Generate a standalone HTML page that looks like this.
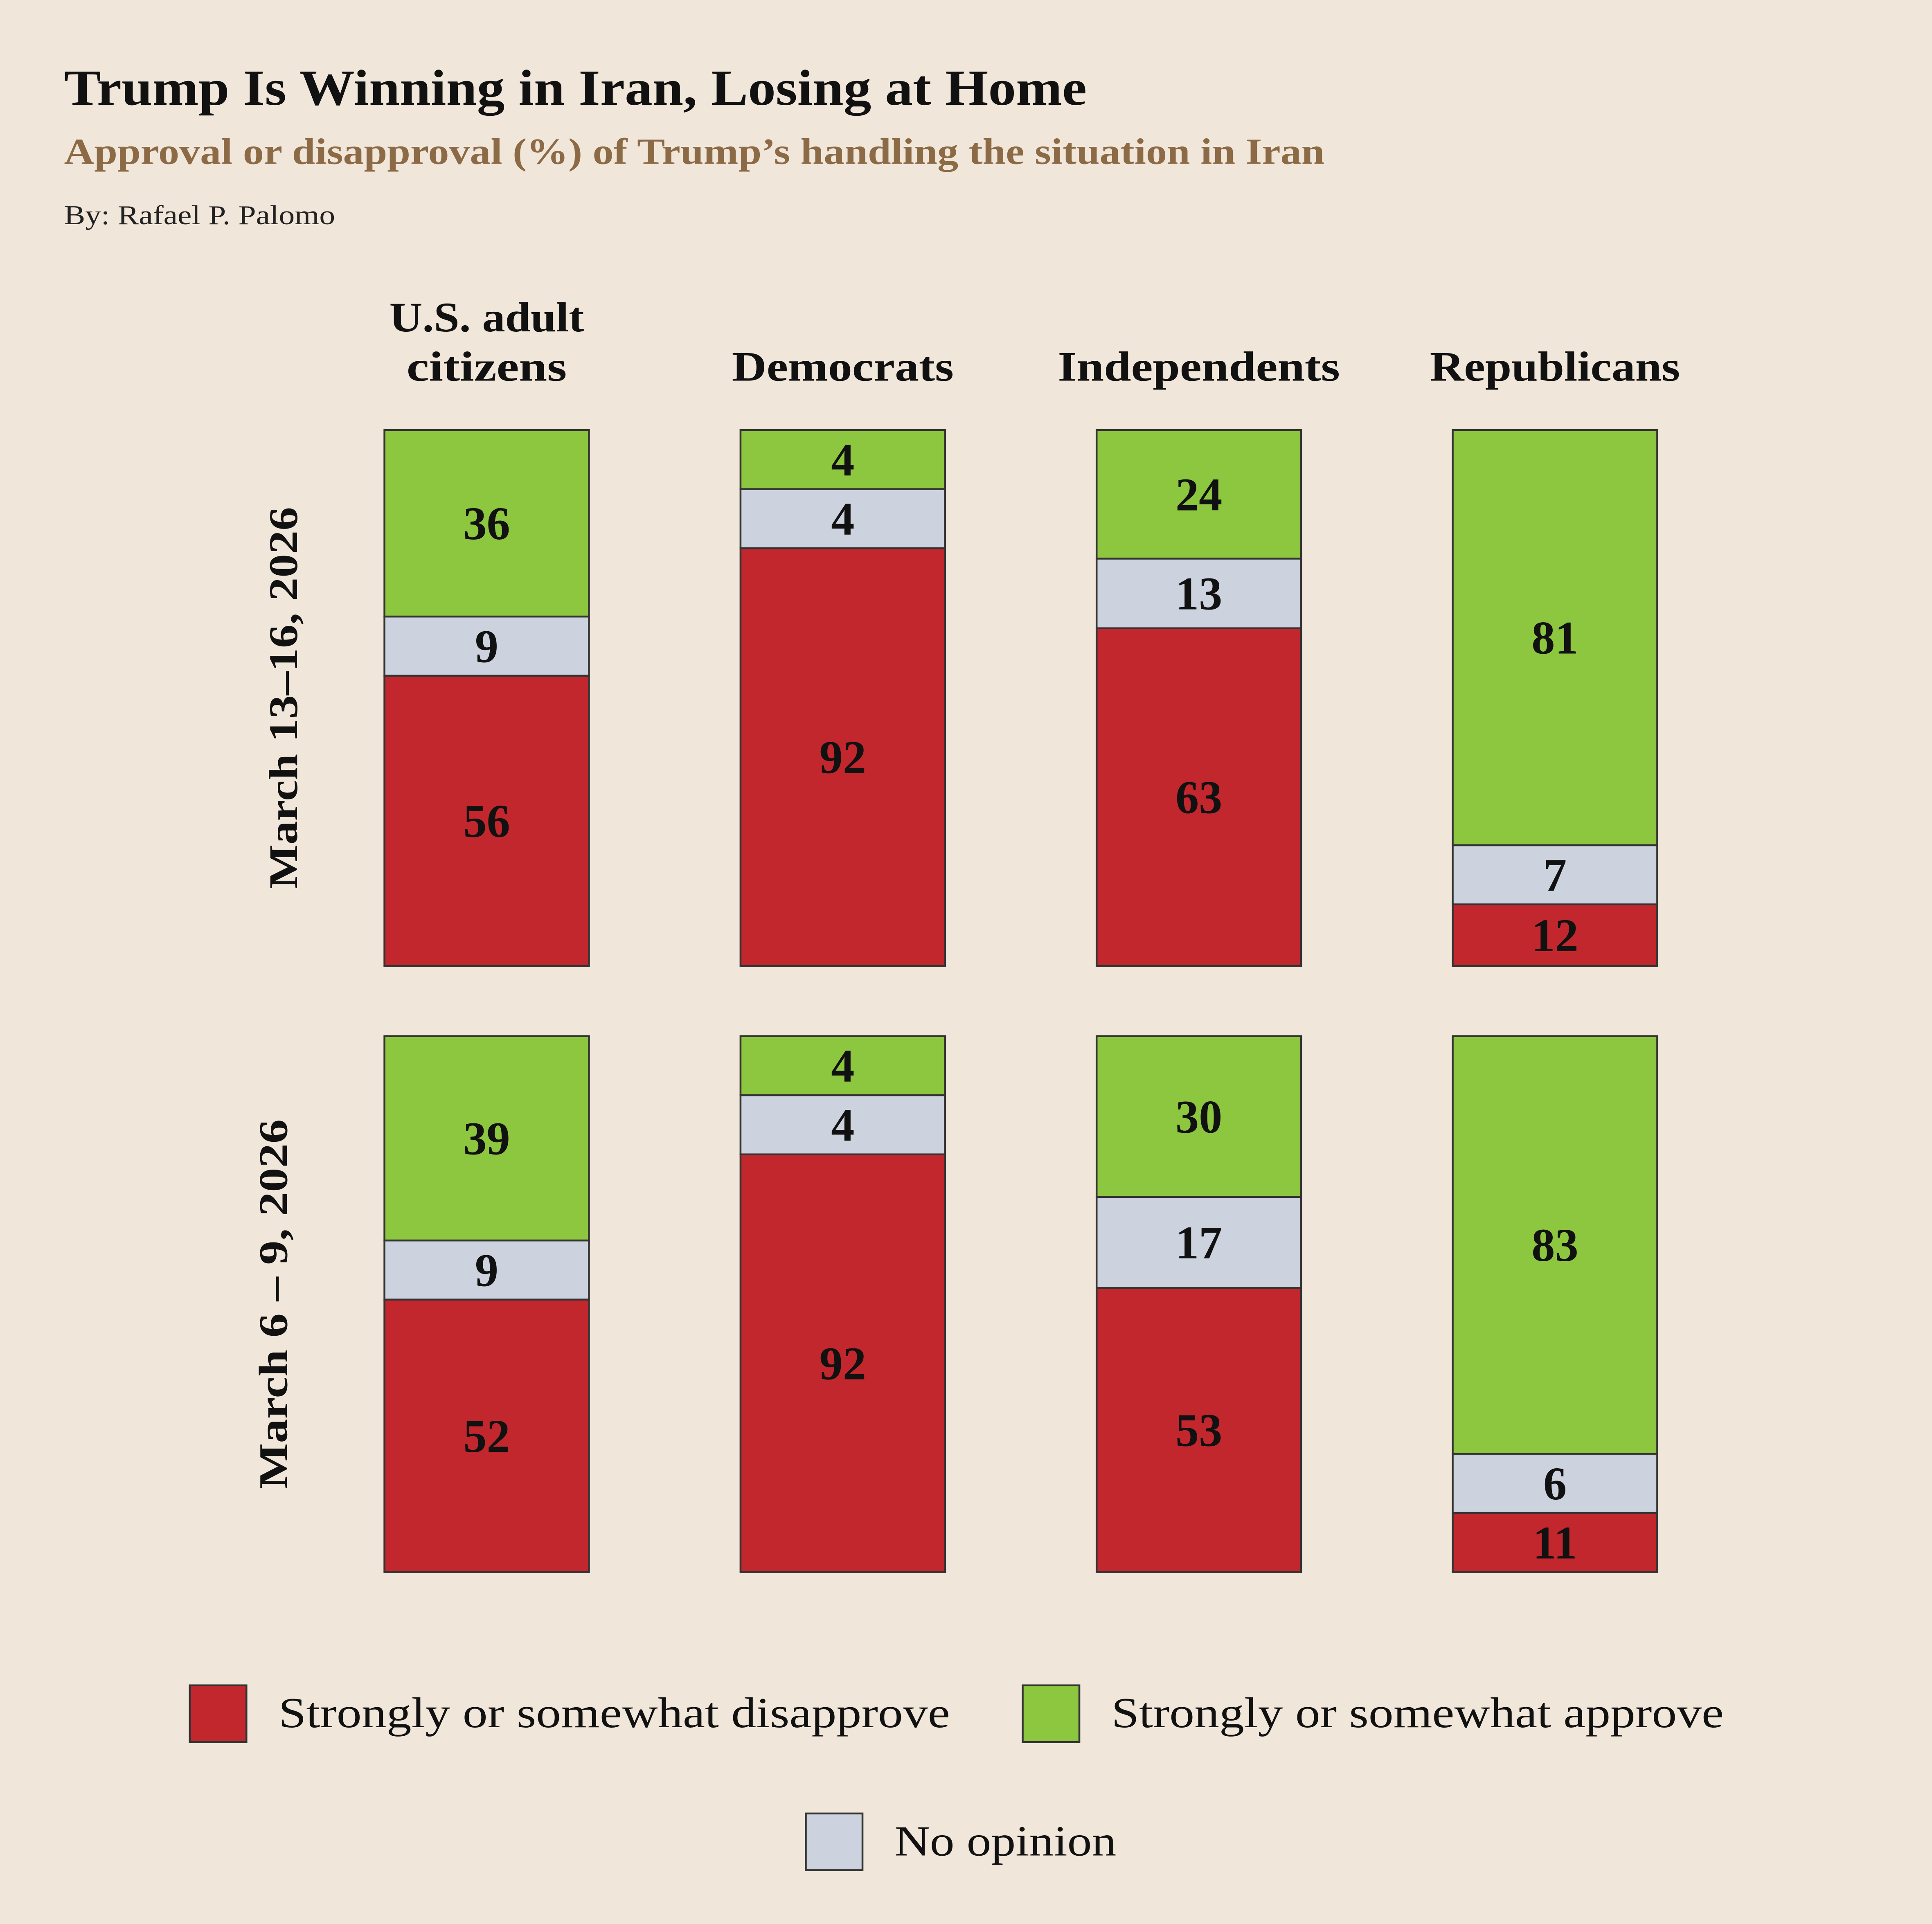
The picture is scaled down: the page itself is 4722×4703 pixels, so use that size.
<!DOCTYPE html>
<html><head><meta charset="utf-8"><style>
html,body{margin:0;padding:0;background:#F1E6DA;}
svg{display:block;}
text{font-family:"Liberation Serif",serif;}
</style></head><body>
<svg id="chart" width="4722" height="4703" viewBox="0 0 1568 1561.7" xmlns="http://www.w3.org/2000/svg">
<rect x="0" y="0" width="1568" height="1562" fill="#F1E6DA"/>
<text x="52" y="85" font-size="41" font-weight="bold" fill="#111" textLength="830" lengthAdjust="spacingAndGlyphs">Trump Is Winning in Iran, Losing at Home</text>
<text x="52" y="133" font-size="30" font-weight="bold" fill="#8B6A45" textLength="1023" lengthAdjust="spacingAndGlyphs">Approval or disapproval (%) of Trump’s handling the situation in Iran</text>
<text x="52" y="182" font-size="22" fill="#222" textLength="220" lengthAdjust="spacingAndGlyphs">By: Rafael P. Palomo</text>
<g id="bars"></g>
<g>
<rect x="154" y="1368" width="46" height="46" fill="#C1272D" stroke="#333" stroke-width="1.5"/>
<text x="226" y="1402" font-size="35" fill="#111" textLength="545" lengthAdjust="spacingAndGlyphs">Strongly or somewhat disapprove</text>
<rect x="830" y="1368" width="46" height="46" fill="#8DC63F" stroke="#333" stroke-width="1.5"/>
<text x="902" y="1402" font-size="35" fill="#111" textLength="497" lengthAdjust="spacingAndGlyphs">Strongly or somewhat approve</text>
<rect x="654" y="1472" width="46" height="46" fill="#CDD3DE" stroke="#333" stroke-width="1.5"/>
<text x="726" y="1506" font-size="35" fill="#111" textLength="180" lengthAdjust="spacingAndGlyphs">No opinion</text>
</g>
</svg>
<script>
const categories = ["U.S. adult|citizens", "Democrats", "Independents", "Republicans"];
const periods = ["March 13–16, 2026", "March 6 – 9, 2026"];
const disapprove = [[56, 92, 63, 12], [52, 92, 53, 11]];
const noOpinion = [[9, 4, 13, 7], [9, 4, 17, 6]];
const approve = [[36, 4, 24, 81], [39, 4, 30, 83]];

const NS = "http://www.w3.org/2000/svg";
const g = document.getElementById("bars");
const colX = c => 312 + c * 289;
const barW = 166;
const rowTop = r => 349 + r * 492;
const barH = 435;
const minSeg = 48;
const headerLen = {"U.S. adult": 158, "citizens": 130, "Democrats": 180, "Independents": 229, "Republicans": 203};
function mk(tag, attrs) { const e = document.createElementNS(NS, tag); for (const k in attrs) e.setAttribute(k, attrs[k]); g.appendChild(e); return e; }
function segHeights(vals) {
  const tot = vals.reduce((a, b) => a + b, 0);
  let hs = vals.map(v => v / tot * barH);
  const small = hs.map(h => h < minSeg);
  const fixed = small.reduce((a, s) => a + (s ? minSeg : 0), 0);
  const restSum = vals.reduce((a, v, i) => a + (small[i] ? 0 : v), 0);
  return vals.map((v, i) => small[i] ? minSeg : v / restSum * (barH - fixed));
}

categories.forEach((cat, c) => {
  const lines = cat.split("|");
  lines.forEach((ln, i) => {
    const t = mk("text", {x: colX(c) + barW / 2, y: 309 - (lines.length - 1 - i) * 40, "font-size": 34, "font-weight": "bold", "text-anchor": "middle", fill: "#111", textLength: headerLen[ln], lengthAdjust: "spacingAndGlyphs"});
    
    
    t.textContent = ln;
  });
});
periods.forEach((p, r) => {
  const cx = 240 - r * 8, cy = rowTop(r) + barH / 2 - (r ? 0 : 0);
  const t = mk("text", {x: cx, y: cy + 1, "font-size": 33, "font-weight": "bold", "text-anchor": "middle", transform: `rotate(-90 ${cx} ${cy})`, fill: "#111", textLength: r ? 300 : 310, lengthAdjust: "spacingAndGlyphs"});
  
  
  t.textContent = p;
  categories.forEach((cat, c) => {
    const vals = [disapprove[r][c], noOpinion[r][c], approve[r][c]];
    const cols = ["#C1272D", "#CDD3DE", "#8DC63F"];
    const names = ["disapprove", "no-opinion", "approve"];
    const hs = segHeights(vals);
    let y = rowTop(r) + barH;
    vals.forEach((v, i) => {
      const h = hs[i];
      y -= h;
      const rect = mk("rect", {x: colX(c), y: y, width: barW, height: h, fill: cols[i], stroke: "#333", "stroke-width": 1.5});
      
      
      const lbl = mk("text", {x: colX(c) + barW / 2, y: y + h / 2 + 13, "font-size": 38, "font-weight": "bold", "text-anchor": "middle", fill: "#111"});
      
      
      lbl.textContent = v;
    });
  });
});
</script>
</body></html>
